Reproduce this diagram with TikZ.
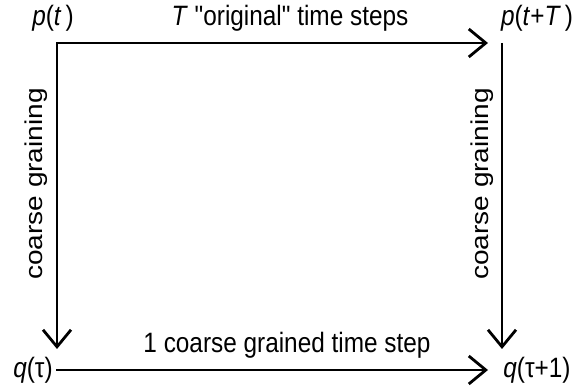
\documentclass[tikz,border=0pt]{standalone}
\usepackage{fontspec}
\setmainfont{Liberation Sans}[Ligatures=TeXOff]
\usetikzlibrary{arrows.meta}
\begin{document}
\begin{tikzpicture}[x=1pt,y=-1pt,
  lbl/.style={inner sep=0pt,font=\fontsize{28}{33}\selectfont,xscale=0.87},
  conn/.style={line width=2.8pt,-{Straight Barb[length=17pt,width=28pt,line width=2.8pt]}}]
\useasboundingbox (0,0) rectangle (574,390);
\node[lbl,anchor=base] (pt) at (53,26) {\textit{p}(\textit{t}\,)};
\node[lbl,anchor=base] (ptT) at (537,26) {\textit{p}(\textit{t}+\textit{T}\,)};
\node[lbl,anchor=base] (qt) at (33,378) {\textit{q}(τ)};
\node[lbl,anchor=base] (qt1) at (537,378) {\textit{q}(τ+1)};
\node[lbl,anchor=base] (toplbl) at (290,26) {\textit{T} "original" time steps};
\node[lbl,anchor=base] (botlbl) at (287,353) {1 coarse grained time step};
\node[lbl,xscale=1,rotate=90] (lcg) at (36,184) {coarse graining};
\node[lbl,xscale=1,rotate=90] (rcg) at (482,184) {coarse graining};
\coordinate (c1) at (57,43);
\coordinate (c2) at (502,43);
\coordinate (t1) at (488,43);
\coordinate (t2) at (57,349);
\coordinate (t3) at (502,349);
\coordinate (t4) at (488,370);
\coordinate (b1) at (56,370);
\draw[conn] (c1) -- (t1);
\draw[conn,line cap=rect] (c1) -- (t2);
\draw[conn] (c2) -- (t3);
\draw[conn] (b1) -- (t4);
\end{tikzpicture}
\end{document}
